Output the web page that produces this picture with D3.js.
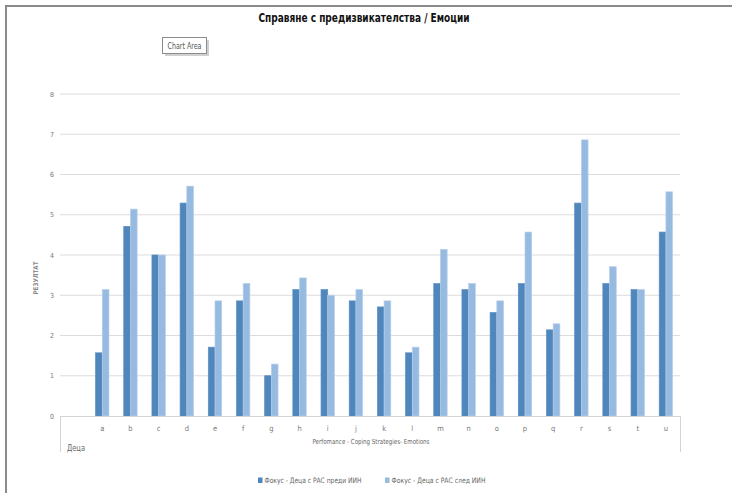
<!DOCTYPE html>
<html>
<head>
<meta charset="utf-8">
<script src="https://cdn.jsdelivr.net/npm/d3@7"></script>
<style>
  html, body { margin: 0; padding: 0; background: #fff; }
  svg { display: block; }
  text { font-family: "Liberation Sans Narrow", "DejaVu Sans Condensed", "Arial Narrow", sans-serif; }
</style>
</head>
<body>
<svg id="chart" width="732" height="493"></svg>
<script>
// Categories (the first, empty slot belongs to the "Деца" group)
const categories = ["", "a", "b", "c", "d", "e", "f", "g", "h", "i", "j", "k", "l", "m", "n", "o", "p", "q", "r", "s", "t", "u"];
// Score before and after the intervention, per category a–u
const before = [1.57, 4.71, 4.00, 5.29, 1.71, 2.86, 1.00, 3.14, 3.14, 2.86, 2.71, 1.57, 3.29, 3.14, 2.57, 3.29, 2.14, 5.29, 3.29, 3.14, 4.57];
const after  = [3.14, 5.14, 4.00, 5.71, 2.86, 3.29, 1.29, 3.43, 3.00, 3.14, 2.86, 1.71, 4.14, 3.29, 2.86, 4.57, 2.29, 6.86, 3.71, 3.14, 5.57];
const seriesNames = ["Фокус - Деца с РАС преди ИИН", "Фокус - Деца с РАС след ИИН"];
const seriesColors = ["#4f86bb", "#97bae0"];
const yTicks = [0, 1, 2, 3, 4, 5, 6, 7, 8];

const svg = d3.select("#chart");

// Condensed text helper: fixes the rendered width of a label
function fit(sel, w) {
  return sel.attr("textLength", w).attr("lengthAdjust", "spacingAndGlyphs");
}

// Outer frame (top and left edges)
svg.append("line").attr("x1", 6).attr("x2", 732).attr("y1", 6).attr("y2", 6)
  .attr("stroke", "#8a8a8a").attr("stroke-width", 2);
svg.append("line").attr("x1", 6).attr("x2", 6).attr("y1", 5).attr("y2", 493)
  .attr("stroke", "#8a8a8a").attr("stroke-width", 2);

// Title
fit(svg.append("text").attr("x", 364).attr("y", 22).attr("text-anchor", "middle")
  .attr("font-size", 13).attr("font-weight", "bold").attr("fill", "#111")
  .text("Справяне с предизвикателства / Емоции"), 211);

// "Chart Area" tooltip
const tip = svg.append("g");
tip.append("rect").attr("x", 165).attr("y", 40).attr("width", 44).attr("height", 16).attr("fill", "#d0d0d0");
tip.append("rect").attr("x", 162.5).attr("y", 37.5).attr("width", 44).attr("height", 16)
  .attr("fill", "#fff").attr("stroke", "#8c8c8c");
fit(tip.append("text").attr("x", 184.5).attr("y", 49).attr("text-anchor", "middle")
  .attr("font-size", 9).attr("fill", "#555").text("Chart Area"), 34);

// Scales
const x0 = d3.scaleBand().domain(categories).range([60, 680]).paddingInner(0).paddingOuter(0);
const x1 = d3.scaleBand().domain([0, 1]).range([-6.7, 6.7]);
const y = d3.scaleLinear().domain([0, 8]).range([416, 94]);

// Gridlines
svg.append("g").selectAll("line").data(yTicks.filter(d => d > 0)).join("line")
  .attr("x1", 60).attr("x2", 680).attr("y1", d => y(d)).attr("y2", d => y(d))
  .attr("stroke", "#dcdcdc").attr("stroke-width", 1.2);

// Y tick labels
svg.append("g").selectAll("text").data(yTicks).join("text")
  .attr("x", 54).attr("y", d => y(d) + 2.5).attr("text-anchor", "end")
  .attr("font-size", 7).attr("fill", "#777").text(d => d);

// Y axis title
fit(svg.append("text").attr("transform", "translate(38,278) rotate(-90)")
  .attr("text-anchor", "middle").attr("font-size", 6.5).attr("font-weight", "bold")
  .attr("fill", "#8a8a8a").text("РЕЗУЛТАТ"), 33);

// Bars
const rows = categories.slice(1).map((c, i) => ({ cat: c, vals: [before[i], after[i]] }));
const groups = svg.append("g").selectAll("g").data(rows).join("g")
  .attr("transform", d => `translate(${x0(d.cat) + x0.bandwidth() / 2},0)`);
groups.selectAll("rect").data(d => d.vals.map((v, k) => ({ v, k }))).join("rect")
  .attr("x", d => x1(d.k))
  .attr("width", x1.bandwidth())
  .attr("y", d => y(d.v))
  .attr("height", d => y(0) - y(d.v))
  .attr("fill", d => seriesColors[d.k])
  .attr("stroke", d => d.k === 0 ? "#5a8fc4" : "#b7cfea")
  .attr("stroke-width", 0.7);

// Category axis line and group dividers
svg.append("line").attr("x1", 60).attr("x2", 680).attr("y1", 416.5).attr("y2", 416.5)
  .attr("stroke", "#d4d4d4").attr("stroke-width", 1);
svg.append("line").attr("x1", 60.5).attr("x2", 60.5).attr("y1", 416).attr("y2", 452)
  .attr("stroke", "#d4d4d4");
svg.append("line").attr("x1", 680.5).attr("x2", 680.5).attr("y1", 416).attr("y2", 452)
  .attr("stroke", "#d4d4d4");

// Category labels
svg.append("g").selectAll("text").data(categories.slice(1)).join("text")
  .attr("x", d => x0(d) + x0.bandwidth() / 2).attr("y", 431).attr("text-anchor", "middle")
  .attr("font-size", 7.5).attr("fill", "#777").text(d => d);

// Group labels
fit(svg.append("text").attr("x", 371).attr("y", 444).attr("text-anchor", "middle")
  .attr("font-size", 7).attr("fill", "#666").text("Perfomance - Coping Strategies- Emotions"), 117);
fit(svg.append("text").attr("x", 67).attr("y", 451).attr("font-size", 8.5).attr("fill", "#666").text("Деца"), 18);

// Legend
const legendX = [258, 385];
const legendW = [97, 94];
const lg = svg.append("g").selectAll("g").data(seriesNames).join("g")
  .attr("transform", (d, i) => `translate(${legendX[i]},477)`);
lg.append("rect").attr("width", 4.5).attr("height", 5.5).attr("y", 0.5).attr("fill", (d, i) => seriesColors[i]);
lg.append("text").attr("x", 6.5).attr("y", 6).attr("font-size", 7.5).attr("fill", "#666")
  .attr("textLength", (d, i) => legendW[i]).attr("lengthAdjust", "spacingAndGlyphs").text(d => d);
</script>
</body>
</html>
